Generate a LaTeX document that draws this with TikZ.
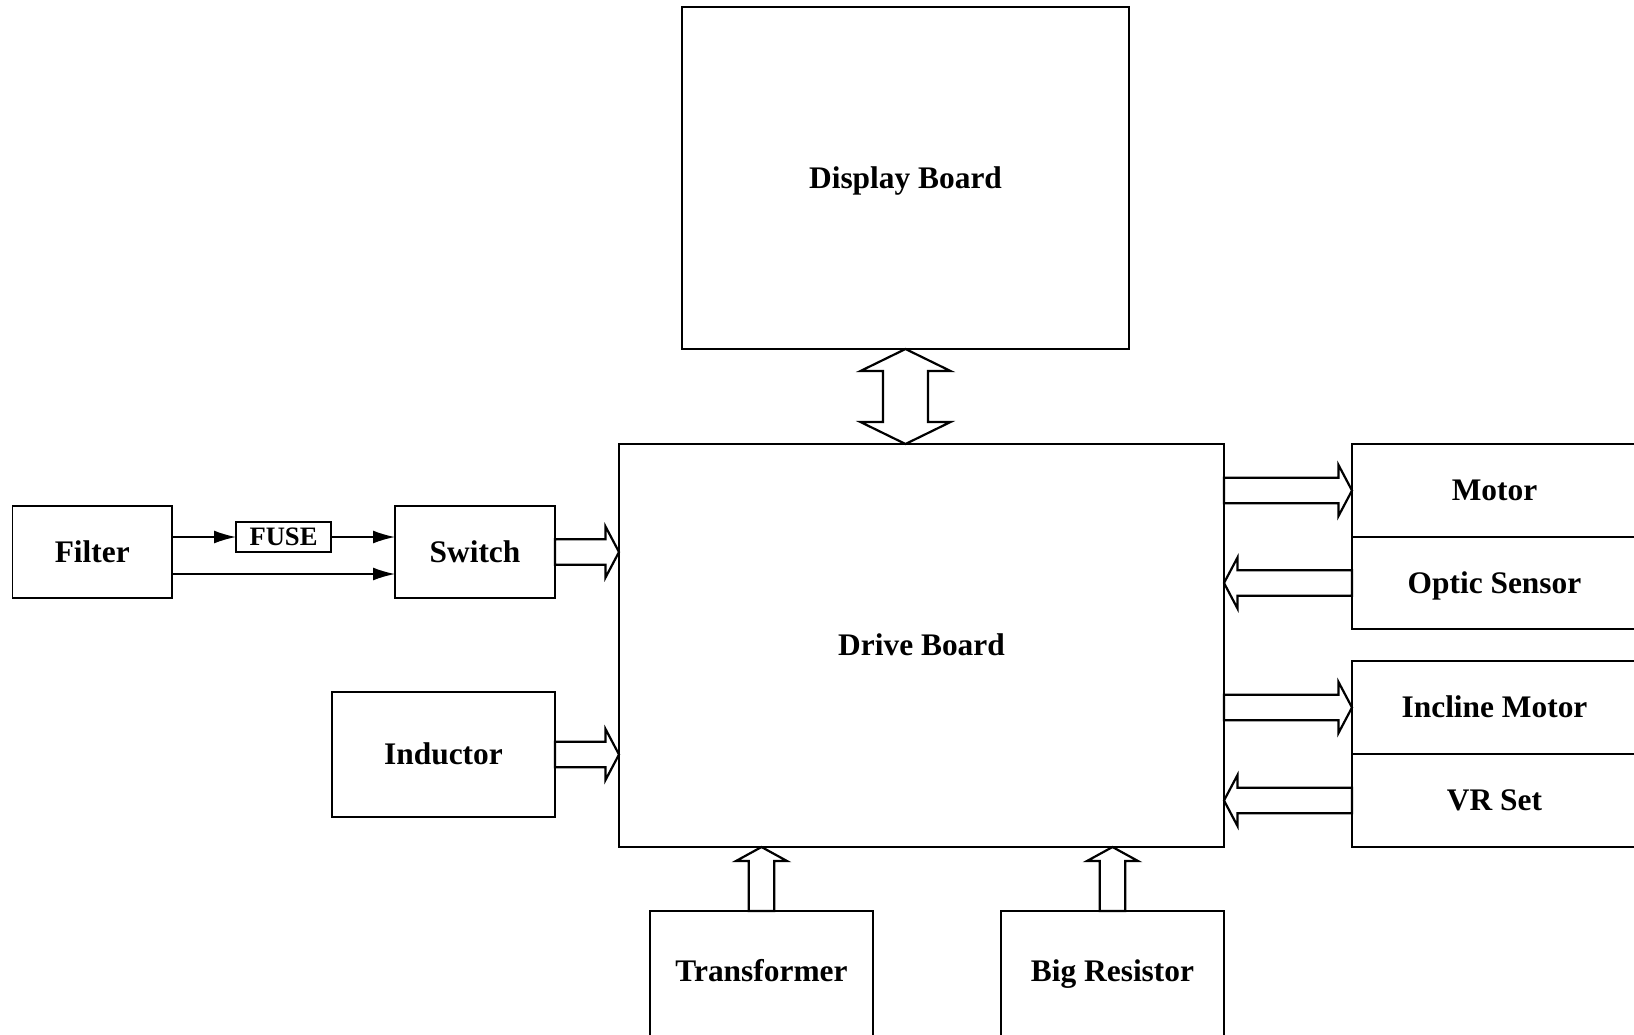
\documentclass[tikz,border=0pt]{standalone}
\usepackage{fontspec}
\setmainfont{Liberation Serif}
\usetikzlibrary{calc,fit,arrows.meta}

\tikzset{
  box/.style={draw, line width=0.8pt, inner sep=0pt, outer sep=0pt},
  lbl/.style={font=\bfseries\fontsize{15.7}{18}\selectfont, text height=10.4pt, text depth=0pt, inner sep=0pt},
  smalllbl/.style={font=\bfseries\fontsize{13.3}{15}\selectfont, text height=8.8pt, text depth=0pt, inner sep=0pt},
  wire/.style={line width=0.8pt, -{Latex[length=11pt,width=6.5pt]}},
  hollow/.style={draw, fill=white, line width=1.1pt, line join=miter},
}

% hollow block arrow: #1 tail, #2 tip, #3 shaft half width, #4 head half width, #5 head length
\newcommand{\blockarrow}[5]{%
  \coordinate (hb) at ($(#2)!#5!(#1)$);
  \draw[hollow]
    ($(#1)!#3!90:(#2)$) -- ($(hb)!#3!90:(#2)$) -- ($(hb)!#4!90:(#2)$) --
    (#2) --
    ($(hb)!#4!-90:(#2)$) -- ($(hb)!#3!-90:(#2)$) -- ($(#1)!#3!-90:(#2)$) -- cycle;
}

% hollow double-headed block arrow: #1 and #2 tips, #3 shaft half, #4 head half, #5 head length
\newcommand{\dblarrow}[5]{%
  \coordinate (ha) at ($(#1)!#5!(#2)$);
  \coordinate (hz) at ($(#2)!#5!(#1)$);
  \draw[hollow]
    (#1) -- ($(ha)!#4!90:(#2)$) -- ($(ha)!#3!90:(#2)$) --
    ($(hz)!#3!90:(#2)$) -- ($(hz)!#4!90:(#2)$) -- (#2) --
    ($(hz)!#4!-90:(#2)$) -- ($(hz)!#3!-90:(#2)$) --
    ($(ha)!#3!-90:(#2)$) -- ($(ha)!#4!-90:(#2)$) -- cycle;
}

\begin{document}
\begin{tikzpicture}[x=0.5pt,y=-0.5pt]
\useasboundingbox (0,0) rectangle (1634,1034);
\clip (0,0) rectangle (1634,1034);
\fill[white] (0,0) rectangle (1634,1034);

% main boards
\node[box, fit={(682,7) (1129,349)}] (disp) {};
\node[lbl] (displbl) at (disp.center) {Display Board};
\node[box, fit={(619,444) (1224,847)}] (drive) {};
\node[lbl] (drivelbl) at (drive.center) {Drive Board};

% power input chain
\node[box, fit={(12.5,506) (172,598)}] (filter) {};
\node[lbl] (filterlbl) at (filter.center) {Filter};
\node[box, fit={(236,522) (331,552)}] (fuse) {};
\node[smalllbl] (fuselbl) at (fuse.center) {FUSE};
\node[box, fit={(395,506) (555,598)}] (sw) {};
\node[lbl] (swlbl) at (sw.center) {Switch};
\node[box, fit={(332,692) (555,817)}] (ind) {};
\node[lbl] (indlbl) at (ind.center) {Inductor};

% peripherals on the right
\node[box, fit={(1352,444) (1637,537)}] (motor) {};
\node[lbl] (motorlbl) at (motor.center) {Motor};
\node[box, fit={(1352,537) (1637,629)}] (optic) {};
\node[lbl] (opticlbl) at (optic.center) {Optic Sensor};
\node[box, fit={(1352,661) (1637,754)}] (incl) {};
\node[lbl] (incllbl) at (incl.center) {Incline Motor};
\node[box, fit={(1352,754) (1637,847)}] (vr) {};
\node[lbl] (vrlbl) at (vr.center) {VR Set};

% parts below the drive board
\node[box, fit={(650,911) (873,1042)}] (trans) {};
\node[lbl] (translbl) at (761.5,971) {Transformer};
\node[box, fit={(1001,911) (1224,1042)}] (res) {};
\node[lbl] (reslbl) at (1112.5,971) {Big Resistor};

% thin wires from the filter
\draw[wire] (filter.east |- fuse.west) -- (fuse.west);
\draw[wire] (fuse.east) -- (sw.west |- fuse.east);
\coordinate (lo) at (0,574);
\draw[wire] (filter.east |- lo) -- (sw.west |- lo);

% block arrows into the drive board
\coordinate (swtip) at (drive.west |- sw.east);
\blockarrow{sw.east}{swtip}{6.4pt}{12.75pt}{6.75pt}
\coordinate (indtip) at (drive.west |- ind.east);
\blockarrow{ind.east}{indtip}{6.4pt}{12.75pt}{6.75pt}

% right-hand arrows
\coordinate (mtail) at (drive.east |- motor.west);
\blockarrow{mtail}{motor.west}{6.4pt}{12.75pt}{6.75pt}
\coordinate (otip) at (drive.east |- optic.west);
\blockarrow{optic.west}{otip}{6.4pt}{12.75pt}{6.75pt}
\coordinate (itail) at (drive.east |- incl.west);
\blockarrow{itail}{incl.west}{6.4pt}{12.75pt}{6.75pt}
\coordinate (vtip) at (drive.east |- vr.west);
\blockarrow{vr.west}{vtip}{6.4pt}{12.75pt}{6.75pt}

% bottom arrows
\coordinate (ttip) at (drive.south -| trans.north);
\blockarrow{trans.north}{ttip}{6.4pt}{12.75pt}{7pt}
\coordinate (rtip) at (drive.south -| res.north);
\blockarrow{res.north}{rtip}{6.4pt}{12.75pt}{7pt}

% link between display board and drive board
\coordinate (dbot) at (drive.north -| disp.south);
\dblarrow{disp.south}{dbot}{11.25pt}{22.5pt}{11pt}
\end{tikzpicture}
\end{document}
